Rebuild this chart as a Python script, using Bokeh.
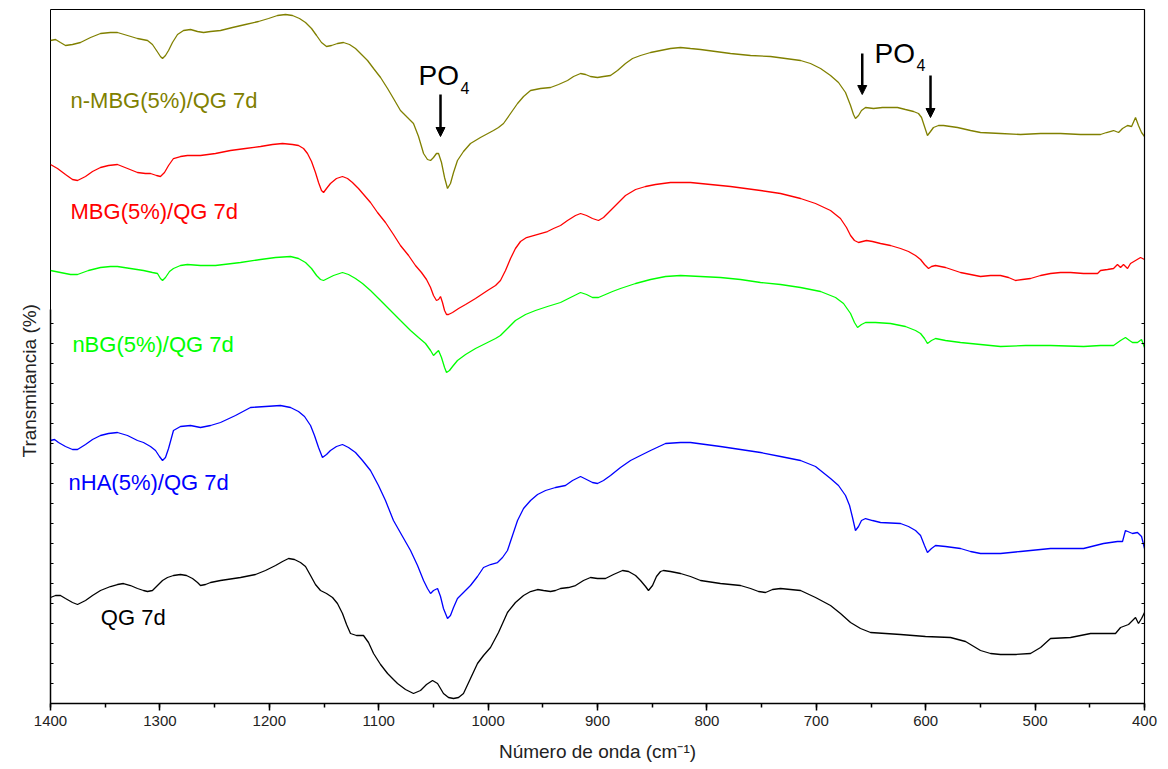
from bokeh.plotting import figure
from bokeh.models import Range1d, SingleIntervalTicker, FixedTicker, LinearAxis, Label, Arrow, NormalHead, Title
from bokeh.embed import file_html
from bokeh.resources import INLINE

# ---------------- data: wavenumber (cm-1) and transmittance (a.u., stacked offsets) ----------------
wn_nmbg = [1400.0,1395.4,1390.9,1386.3,1379.9,1372.6,1363.4,1354.3,1345.2,1338.8,1329.6,1320.5,1311.3,1306.8,1303.1,
           1299.5,1297.6,1294.9,1292.1,1288.5,1283.9,1278.4,1272.0,1265.6,1260.1,1253.7,1244.6,1233.6,1221.8,1209.9,
           1200.7,1192.5,1185.2,1178.8,1172.4,1166.9,1161.4,1156.8,1152.3,1147.7,1143.1,1137.7,1132.2,1126.7,1121.2,
           1115.7,1110.2,1104.7,1098.3,1091.9,1086.5,1080.1,1073.7,1068.2,1063.6,1059.0,1055.4,1052.6,1049.9,1047.2,
           1045.3,1042.6,1039.8,1037.1,1034.4,1031.6,1028.0,1022.5,1016.1,1007.0,995.1,990.5,985.9,979.5,973.1,
           967.6,961.2,952.1,942.9,935.6,927.4,921.9,915.5,910.9,906.4,900.0,894.5,888.1,881.7,874.4,
           868.0,860.7,851.5,842.4,833.3,824.1,815.0,805.8,792.1,778.4,760.1,741.8,728.1,714.4,705.3,
           696.1,687.0,679.7,673.3,668.7,666.0,664.2,661.4,658.7,655.0,647.7,639.5,625.8,618.5,611.1,
           606.6,603.8,601.1,598.4,595.6,592.9,588.3,583.7,577.3,570.9,559.0,549.9,531.6,513.3,495.0,
           476.8,458.5,440.2,434.7,428.3,423.7,420.1,415.5,411.8,408.2,405.5,402.7,400.0]
t_nmbg = [66.3,66.4,66.1,65.8,65.9,66.1,66.6,67.0,67.1,67.1,66.8,66.5,66.3,65.9,65.3,
          64.7,64.5,64.8,65.3,66.1,66.9,67.3,67.4,67.2,67.1,67.2,67.3,67.6,67.9,68.2,
          68.5,68.8,68.9,68.8,68.5,68.1,67.5,66.8,66.1,65.7,65.8,66.0,66.1,65.9,65.5,
          64.9,64.3,63.5,62.6,61.5,60.5,59.3,58.6,58.0,56.7,55.0,54.4,54.3,54.6,55.0,
          55.0,54.1,52.6,51.5,52.0,53.1,54.3,55.2,56.0,56.6,57.3,57.6,58.0,59.0,60.0,
          60.7,61.3,61.5,61.6,61.9,62.3,62.7,63.0,62.9,62.7,62.6,62.7,62.8,63.3,64.0,
          64.5,64.8,65.1,65.3,65.5,65.6,65.5,65.4,65.2,65.0,64.8,64.7,64.5,64.3,64.0,
          63.5,62.8,62.1,61.1,59.8,58.9,58.5,58.8,59.3,59.6,59.5,59.6,59.6,59.4,59.2,
          59.0,58.6,57.7,56.8,57.2,57.6,57.8,57.8,57.7,57.6,57.3,57.1,57.0,56.9,57.0,
          57.0,56.9,56.9,57.1,57.3,57.1,57.5,57.8,57.7,58.6,57.8,57.1,56.7]

wn_mbg = [1400.0,1393.6,1386.3,1379.9,1375.3,1368.0,1361.6,1354.3,1347.0,1338.8,1329.6,1320.5,1313.2,1308.6,1303.1,
          1299.5,1295.8,1292.1,1287.6,1281.2,1274.8,1262.9,1249.2,1235.5,1221.8,1208.0,1197.1,1187.9,1178.8,1173.3,
          1168.7,1165.1,1161.4,1157.8,1155.0,1152.3,1150.4,1147.7,1144.1,1138.6,1133.1,1128.5,1124.0,1118.5,1113.0,
          1107.5,1101.1,1093.8,1086.5,1080.1,1072.7,1066.4,1060.9,1056.3,1052.6,1049.9,1047.2,1045.3,1043.5,1041.7,
          1039.8,1038.0,1036.2,1032.5,1027.0,1020.6,1011.5,1000.5,993.2,988.7,984.1,979.5,975.0,970.4,964.9,
          958.5,952.1,945.7,940.2,933.8,927.4,920.1,915.5,910.0,904.6,899.1,894.5,888.1,881.7,874.4,
          865.2,856.1,847.0,833.3,815.0,796.7,778.4,751.0,732.7,714.4,700.7,687.0,677.9,672.4,668.7,
          665.1,661.4,657.8,654.1,648.6,641.3,632.2,623.0,615.7,609.3,604.7,601.1,597.4,594.7,591.0,
          581.9,568.2,559.0,549.9,540.7,531.6,524.3,517.9,511.5,504.2,495.0,485.9,476.8,467.6,455.7,
          442.9,440.2,433.8,428.3,424.7,421.9,419.2,415.5,412.8,408.2,403.6,400.0]
t_mbg = [53.9,53.5,52.9,52.4,52.3,52.7,53.2,53.6,53.8,53.9,53.5,53.1,53.0,53.0,52.8,
         52.7,53.1,53.8,54.5,54.7,54.8,54.8,55.0,55.3,55.5,55.7,55.9,56.0,55.9,55.8,
         55.5,55.0,54.2,53.1,52.1,51.3,51.1,51.5,52.0,52.5,52.7,52.5,52.1,51.5,50.8,
         50.1,49.1,48.1,46.9,45.8,44.8,43.8,43.1,42.4,41.6,40.8,40.3,40.4,40.7,40.1,
         39.3,38.9,38.9,39.1,39.5,39.9,40.5,41.3,41.8,42.3,43.3,44.5,45.5,46.2,46.6,
         46.8,47.0,47.2,47.5,47.8,48.3,48.8,49.0,48.8,48.5,48.3,48.6,49.3,50.0,50.8,
         51.4,51.7,51.9,52.1,52.1,51.9,51.7,51.3,51.0,50.5,50.0,49.3,48.5,47.6,46.8,
         46.3,46.1,46.2,46.3,46.2,46.0,45.8,45.5,45.2,44.8,44.4,43.9,43.5,43.7,43.8,
         43.6,43.1,42.9,42.7,42.8,42.8,42.6,42.3,42.4,42.5,42.8,43.0,43.1,43.1,43.0,
         43.0,43.3,43.4,43.5,43.9,43.6,43.9,43.5,44.0,44.3,44.6,44.4]

wn_nbg = [1400.0,1390.9,1381.7,1375.3,1365.3,1354.3,1345.2,1338.8,1326.9,1315.0,1306.8,1302.2,1299.5,1297.6,1294.9,
          1291.2,1287.6,1281.2,1274.8,1262.9,1249.2,1226.3,1208.0,1194.3,1180.6,1173.3,1166.9,1161.4,1156.8,1153.2,
          1150.4,1146.8,1141.3,1133.1,1127.6,1121.2,1114.8,1107.5,1098.3,1089.2,1080.1,1070.9,1063.6,1057.2,1052.6,
          1049.9,1047.2,1045.3,1042.6,1039.8,1038.0,1035.3,1032.5,1028.0,1020.6,1011.5,1000.5,993.2,988.7,982.3,
          975.0,965.8,956.7,945.7,933.8,924.7,915.5,910.0,904.6,899.1,892.7,886.3,879.0,865.2,851.5,
          837.8,824.1,805.8,787.6,769.3,751.0,732.7,714.4,696.1,682.4,675.1,668.7,665.1,662.3,658.7,
          655.0,645.9,632.2,618.5,609.3,604.7,601.1,598.4,594.7,591.0,581.9,568.2,549.9,531.6,508.7,
          485.9,455.7,440.2,428.3,421.9,417.4,413.7,411.0,406.4,402.7,400.0]
t_nbg = [43.3,43.1,42.9,42.9,43.3,43.6,43.7,43.7,43.5,43.3,43.1,43.0,42.5,42.3,42.6,
         43.2,43.5,43.8,43.9,43.8,43.8,44.1,44.4,44.6,44.7,44.5,44.1,43.5,42.8,42.4,
         42.3,42.5,42.8,43.1,42.9,42.5,42.0,41.3,40.3,39.3,38.3,37.3,36.6,36.0,35.3,
         34.8,35.1,35.3,34.6,33.6,33.1,33.3,33.7,34.3,34.9,35.5,36.1,36.5,36.8,37.5,
         38.3,38.9,39.3,39.7,40.1,40.6,41.1,40.9,40.6,40.6,40.9,41.2,41.5,42.0,42.4,
         42.7,42.8,42.7,42.6,42.4,42.1,41.9,41.6,41.2,40.6,40.0,39.0,38.1,37.6,37.9,
         38.1,38.1,38.0,37.7,37.3,37.0,36.5,36.0,36.3,36.5,36.3,36.1,35.9,35.7,35.8,
         35.8,35.7,35.8,35.8,36.3,36.6,36.3,36.1,36.1,36.4,35.6]

wn_nha = [1400.0,1396.3,1392.7,1386.3,1379.9,1375.3,1368.0,1361.6,1354.3,1347.0,1338.8,1329.6,1320.5,1315.0,1308.6,
          1304.0,1300.4,1297.6,1294.9,1292.1,1287.6,1281.2,1272.0,1262.9,1253.7,1244.6,1230.9,1217.2,1203.5,1189.8,
          1180.6,1173.3,1167.8,1162.3,1158.7,1155.0,1151.4,1147.7,1144.1,1138.6,1133.1,1127.6,1121.2,1114.8,1107.5,
          1100.2,1093.8,1086.5,1078.2,1070.9,1064.5,1059.0,1055.4,1052.6,1049.9,1046.2,1043.5,1040.8,1037.1,1034.4,
          1031.6,1028.0,1022.5,1016.1,1009.7,1004.2,997.8,991.4,986.8,982.3,977.7,973.1,967.6,961.2,954.8,
          947.5,938.4,929.3,922.8,915.5,910.0,904.6,900.0,894.5,888.1,879.0,869.8,860.7,851.5,837.8,
          824.1,815.0,801.3,787.6,769.3,751.0,732.7,714.4,700.7,687.0,679.7,673.3,669.6,666.9,664.2,
          661.4,658.7,655.0,648.6,641.3,623.0,615.7,609.3,604.7,601.1,598.4,594.7,591.0,581.9,568.2,
          559.0,549.9,531.6,513.3,485.9,455.7,437.5,424.7,420.1,417.4,411.0,406.4,402.7,400.0]
t_nha = [26.3,26.4,26.1,25.7,25.4,25.4,25.9,26.4,26.8,27.0,27.1,26.8,26.3,26.1,25.7,
         25.3,24.7,24.3,24.6,25.5,27.3,27.7,27.8,27.6,27.8,28.1,28.8,29.6,29.7,29.8,
         29.6,29.2,28.7,27.8,26.8,25.6,24.6,24.9,25.3,25.7,25.9,25.6,25.1,24.3,23.3,
         21.8,20.3,18.3,16.7,15.3,13.8,12.3,11.5,11.0,11.3,11.5,10.7,9.5,8.5,8.8,
         9.6,10.5,11.1,11.8,12.7,13.6,13.9,14.1,14.6,15.3,16.8,18.3,19.5,20.3,20.9,
         21.3,21.6,21.8,22.3,22.7,22.4,22.1,22.0,22.3,22.8,23.6,24.3,24.8,25.3,26.0,
         26.1,26.1,25.9,25.7,25.4,25.1,24.7,24.3,23.7,22.5,21.8,20.8,19.8,18.6,17.3,
         17.7,18.3,18.5,18.3,18.1,18.0,17.7,17.3,16.8,15.8,15.1,15.5,15.8,15.7,15.5,
         15.2,15.0,15.0,15.2,15.5,15.5,16.0,16.2,16.2,17.3,17.0,17.1,16.7,15.5]

wn_qg = [1400.0,1395.4,1390.9,1386.3,1379.9,1375.3,1368.0,1361.6,1354.3,1345.2,1338.8,1333.3,1326.9,1320.5,1315.0,
         1311.3,1306.8,1302.2,1297.6,1293.1,1287.6,1281.2,1275.7,1270.2,1265.6,1262.9,1258.3,1253.7,1244.6,1226.3,
         1212.6,1203.5,1194.3,1187.9,1182.4,1177.0,1171.5,1166.9,1162.3,1157.8,1153.2,1147.7,1142.2,1137.7,1133.1,
         1129.4,1125.8,1120.3,1113.9,1109.3,1104.7,1098.3,1091.9,1086.5,1082.8,1075.5,1068.2,1061.8,1056.3,1050.8,
         1046.2,1040.8,1036.2,1031.6,1027.0,1022.5,1016.1,1009.7,1004.2,997.8,990.5,982.3,975.0,967.6,961.2,
         954.8,949.3,942.9,938.4,933.8,926.5,920.1,912.8,906.4,900.0,892.7,885.4,877.1,871.6,865.2,
         860.7,856.1,853.4,849.7,846.1,842.4,839.7,833.3,824.1,815.0,805.8,787.6,769.3,760.1,752.8,
         746.4,740.0,732.7,723.6,714.4,700.7,687.0,677.9,668.7,659.6,650.4,636.7,623.0,600.2,577.3,
         563.6,549.9,540.7,531.6,517.9,504.2,495.0,485.9,467.6,449.3,435.6,426.5,421.9,414.6,408.2,
         405.5,402.7,400.0]
t_qg = [10.6,10.8,10.8,10.5,10.1,9.9,10.3,10.8,11.3,11.7,11.9,12.0,11.8,11.5,11.3,
        11.2,11.3,11.8,12.3,12.6,12.8,12.9,12.8,12.5,12.1,11.8,11.9,12.1,12.3,12.6,
        12.9,13.3,13.8,14.2,14.5,14.4,14.1,13.7,12.8,11.9,11.3,11.0,10.6,10.0,9.0,
        7.9,7.0,6.8,6.8,6.1,5.0,3.9,3.0,2.4,2.0,1.4,1.0,1.3,1.9,2.3,
        2.0,1.0,0.6,0.5,0.6,1.0,2.5,4.0,4.8,5.6,7.1,9.1,10.1,10.8,11.2,
        11.4,11.3,11.2,11.3,11.5,11.6,11.8,12.3,12.6,12.5,12.5,12.9,13.3,13.2,12.8,
        12.3,11.7,11.3,11.8,12.7,13.2,13.3,13.2,13.0,12.7,12.3,12.0,11.8,11.5,11.2,
        11.1,11.4,11.5,11.4,11.3,10.6,9.8,9.0,8.1,7.5,7.1,7.0,6.9,6.7,6.6,
        6.2,5.3,5.0,4.9,4.9,5.0,5.6,6.5,6.6,7.0,7.0,7.0,7.6,7.9,8.6,
        8.0,8.5,9.1]

series = [
    ("n-MBG(5%)/QG 7d", wn_nmbg, t_nmbg, "#808000"),
    ("MBG(5%)/QG 7d", wn_mbg, t_mbg, "#ff0000"),
    ("nBG(5%)/QG 7d", wn_nbg, t_nbg, "#00ff00"),
    ("nHA(5%)/QG 7d", wn_nha, t_nha, "#0000ff"),
    ("QG 7d", wn_qg, t_qg, "#000000"),
]
label_pos = [(1381.7, 60.3), (1381.7, 49.2), (1380.0, 35.9), (1383.5, 22.1), (1354.0, 8.6)]
y_ticks = list(range(0, 39, 2))

FONT = "Liberation Sans"

p = figure(frame_width=1094, frame_height=694, output_backend="svg", toolbar_location=None,
           x_range=Range1d(1400, 400), y_range=Range1d(0, 69.4),
           min_border_left=50, min_border_right=20, min_border_top=9, min_border_bottom=66,
           background_fill_color="white", border_fill_color="white")
p.grid.visible = False
p.outline_line_color = "black"
p.outline_line_width = 1

xa = p.xaxis[0]
xa.ticker = SingleIntervalTicker(interval=100, num_minor_ticks=2)
xa.major_tick_out = 7
xa.major_tick_in = 0
xa.minor_tick_out = 4
xa.minor_tick_in = 0
xa.axis_line_width = 1.5
xa.major_tick_line_width = 1.5
xa.minor_tick_line_width = 1.5
xa.major_label_standoff = 5
xa.major_label_text_font = FONT
xa.major_label_text_font_size = "15px"
xa.major_label_text_color = "#222222"
xa.axis_label = "Número de onda (cm\u207b\u00b9)"
xa.axis_label_text_font = FONT
xa.axis_label_text_font_size = "19px"
xa.axis_label_text_font_style = "normal"
xa.axis_label_text_color = "#222222"
xa.axis_label_standoff = 12

ya = p.yaxis[0]
ya.ticker = FixedTicker(ticks=y_ticks)
ya.major_tick_in = 3
ya.major_tick_out = 0
ya.minor_tick_line_color = None
ya.major_label_text_color = None
ya.major_label_text_font_size = "1px"
ya.axis_line_width = 1.5
ya.bounds = (0, 39.4)

p.add_layout(Title(text="Transmitancia (%)", align="left", offset=246, text_font=FONT,
                   text_font_size="19px", text_font_style="normal", text_color="#222222",
                   standoff=22), "left")

ra = LinearAxis(ticker=FixedTicker(ticks=y_ticks), major_tick_in=3, major_tick_out=0,
                minor_tick_line_color=None, major_label_text_color=None, major_label_text_font_size="1px",
                axis_line_width=1.2)
p.add_layout(ra, "right")

for (name, wn, t, col), (lx, ly) in zip(series, label_pos):
    p.line(wn, t, line_color=col, line_width=1.3)
    p.add_layout(Label(x=lx, y=ly, text=name, text_font=FONT, text_font_size="22px",
                       text_color=col, text_baseline="alphabetic", text_align="left"))

# PO4 annotations
for (px_, py_, sx, sy) in [(1063.6, 62.8, 1025.2, 61.6), (646.8, 65.0, 608.4, 63.9)]:
    p.add_layout(Label(x=px_, y=py_, text="PO", text_font=FONT, text_font_size="28px",
                       text_color="black", text_baseline="alphabetic"))
    p.add_layout(Label(x=sx, y=sy, text="4", text_font=FONT, text_font_size="16px",
                       text_color="black", text_baseline="alphabetic"))

for (ax, y0, y1) in [(1043.5, 60.9, 56.7), (658.0, 65.0, 60.9), (595.6, 62.8, 58.6)]:
    p.add_layout(Arrow(end=NormalHead(size=9, fill_color="black", line_color="black"),
                       x_start=ax, y_start=y0, x_end=ax, y_end=y1, line_width=2.5, line_color="black"))

open("out.html", "w").write(file_html(p, INLINE))
